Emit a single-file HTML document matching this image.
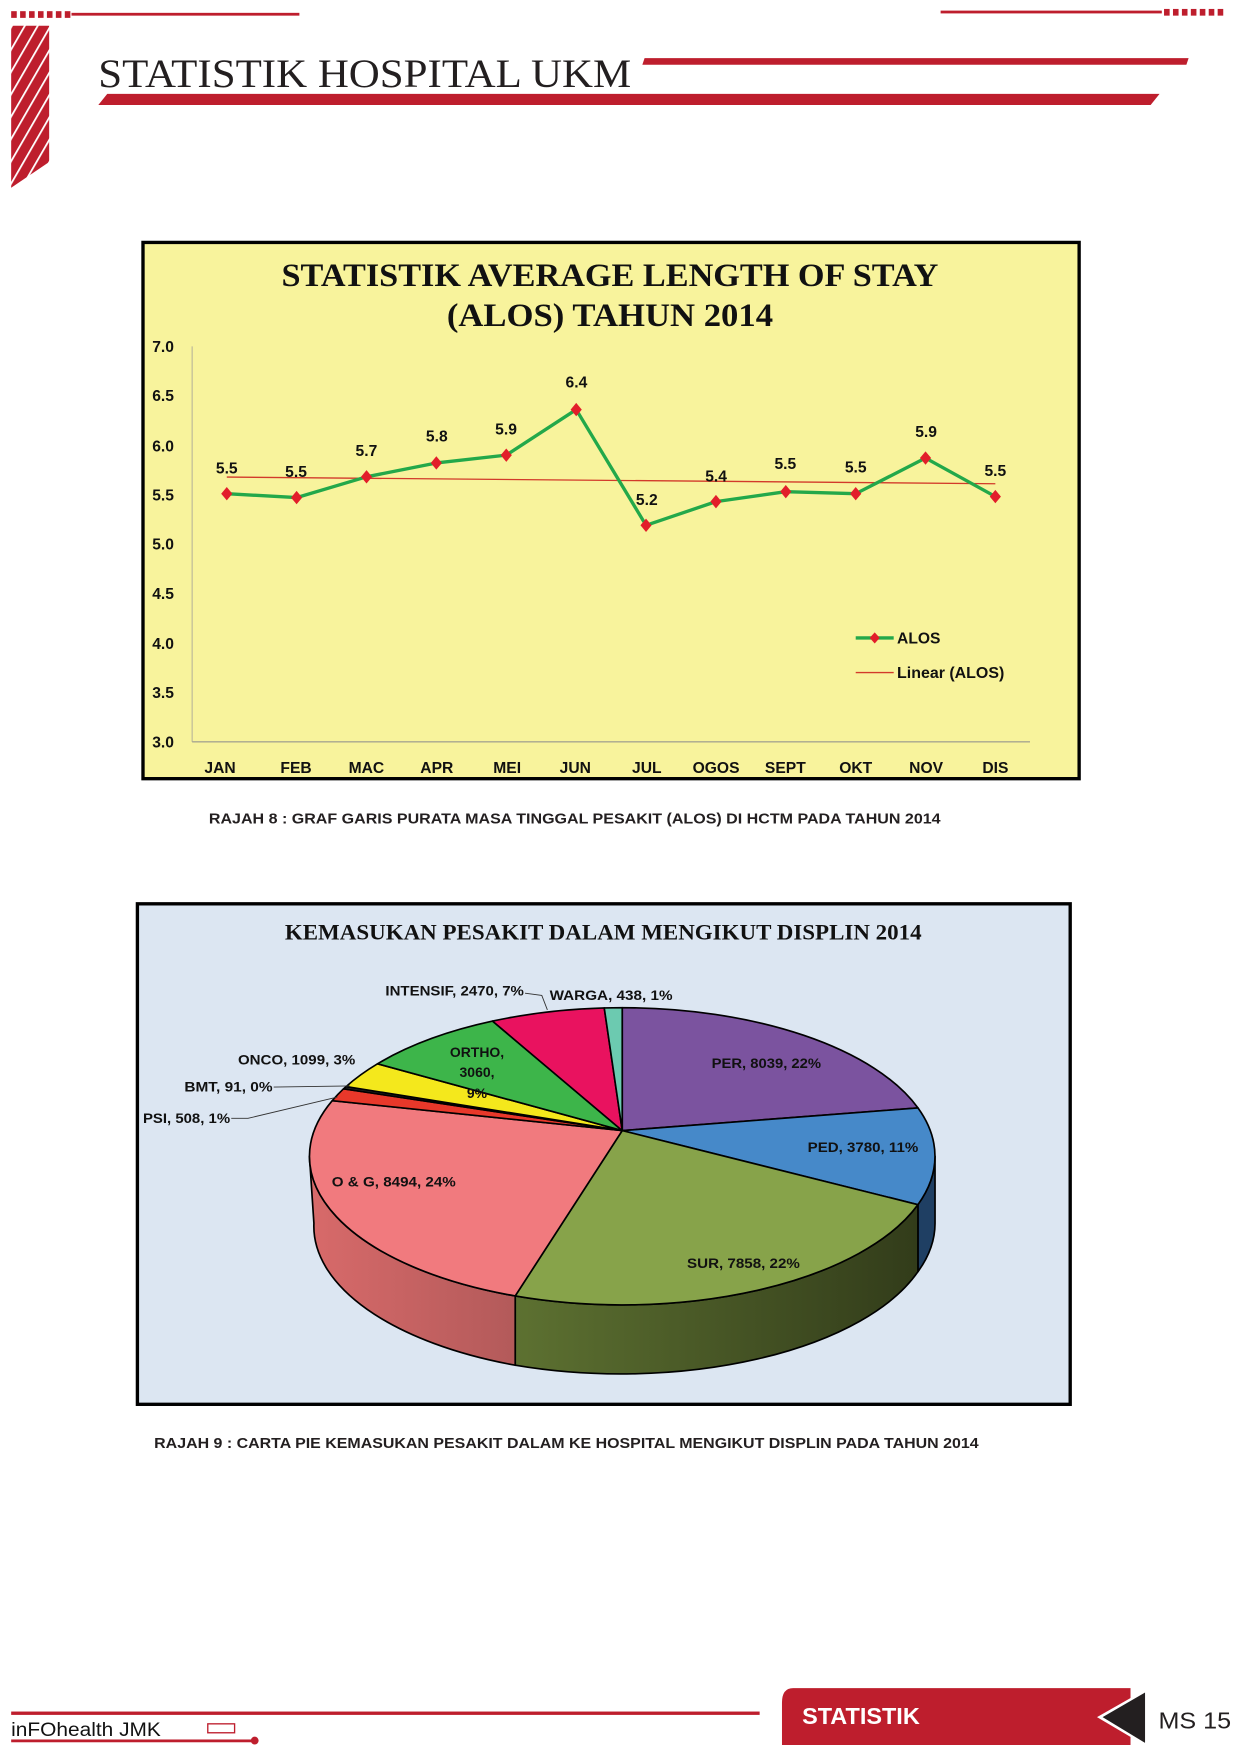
<!DOCTYPE html>
<html><head><meta charset="utf-8"><style>
html,body{margin:0;padding:0;background:#fff;width:1240px;height:1754px;overflow:hidden}
svg{display:block}
.c{font-family:"Liberation Sans",sans-serif;font-weight:bold}
</style></head><body>
<svg width="1240" height="1754" viewBox="0 0 1110 1570" preserveAspectRatio="none" xmlns="http://www.w3.org/2000/svg">
<defs>
<pattern id="st" width="10" height="10" patternUnits="userSpaceOnUse" patternTransform="rotate(30)">
<rect width="10" height="10" fill="#be1e2d"/><rect width="1.6" height="10" fill="#fff"/></pattern>
<linearGradient id="gS" x1="0" x2="1"><stop offset="0" stop-color="#5d7131"/><stop offset="1" stop-color="#323c1a"/></linearGradient>
<linearGradient id="gO" x1="0" x2="1"><stop offset="0" stop-color="#d86a6a"/><stop offset="1" stop-color="#b35a5a"/></linearGradient>
</defs>
<!-- header -->
<g fill="#be1e2d">
<rect x="10" y="10" width="5" height="6"/><rect x="18" y="10" width="5" height="6"/><rect x="26" y="10" width="5" height="6"/><rect x="34" y="10" width="5" height="6"/><rect x="42" y="10" width="5" height="6"/><rect x="50" y="10" width="5" height="6"/><rect x="58" y="10" width="5" height="6"/>
<rect x="64" y="11.5" width="204" height="2.5"/>
<rect x="842" y="9.5" width="198" height="2.5"/>
<rect x="1042" y="8" width="5" height="6"/><rect x="1050" y="8" width="5" height="6"/><rect x="1058" y="8" width="5" height="6"/><rect x="1066" y="8" width="5" height="6"/><rect x="1074" y="8" width="5" height="6"/><rect x="1082" y="8" width="5" height="6"/><rect x="1090" y="8" width="5" height="6"/>
<polygon points="577,52 1064,52 1062,58 575,58"/>
<polygon points="96,84 1038,84 1030,94 88,94"/>
</g>
<polygon points="10,23 44,23 44,145 10,168" fill="url(#st)"/>
<text x="88" y="78" font-family="Liberation Serif,serif" font-size="36" textLength="477" lengthAdjust="spacingAndGlyphs" fill="#231f20">STATISTIK HOSPITAL UKM</text>

<!-- chart 1 -->
<rect x="128" y="217" width="838" height="480" fill="#f8f39c" stroke="#000" stroke-width="3"/>
<g font-family="Liberation Serif,serif" font-weight="bold" font-size="29" text-anchor="middle" fill="#111">
<text x="546" y="256" textLength="588" lengthAdjust="spacingAndGlyphs">STATISTIK AVERAGE LENGTH OF STAY</text>
<text x="546" y="292" textLength="292" lengthAdjust="spacingAndGlyphs">(ALOS) TAHUN 2014</text>
</g>
<line x1="172" y1="310" x2="172" y2="664" stroke="#b9b69a" stroke-width="1"/>
<line x1="172" y1="664" x2="922" y2="664" stroke="#a8a690" stroke-width="1.2"/>
<g class="c" font-size="14" text-anchor="middle" fill="#111">
<text x="146" y="315">7.0</text><text x="146" y="359">6.5</text><text x="146" y="404">6.0</text><text x="146" y="448">5.5</text><text x="146" y="492">5.0</text><text x="146" y="536">4.5</text><text x="146" y="581">4.0</text><text x="146" y="625">3.5</text><text x="146" y="669">3.0</text>
<text x="197" y="692">JAN</text><text x="265" y="692">FEB</text><text x="328" y="692">MAC</text><text x="391" y="692">APR</text><text x="454" y="692">MEI</text><text x="515" y="692">JUN</text><text x="579" y="692">JUL</text><text x="641" y="692">OGOS</text><text x="703" y="692">SEPT</text><text x="766" y="692">OKT</text><text x="829" y="692">NOV</text><text x="891" y="692">DIS</text>
</g>
<line x1="203" y1="427" x2="891" y2="433" stroke="#d23a2a" stroke-width="1.2"/>
<polyline fill="none" stroke="#23a84a" stroke-width="3" stroke-linejoin="round" points="203,441.9 265.5,445.4 328.1,426.8 390.6,414.4 453.2,407.4 515.8,366.6 578.3,470.2 640.9,449 703.4,440.1 766,441.9 828.5,410 891,444.5"/>
<g fill="#e21e2a">
<path d="M203,435.9l5,6l-5,6l-5,-6z"/><path d="M265.5,439.4l5,6l-5,6l-5,-6z"/><path d="M328.1,420.8l5,6l-5,6l-5,-6z"/><path d="M390.6,408.4l5,6l-5,6l-5,-6z"/><path d="M453.2,401.4l5,6l-5,6l-5,-6z"/><path d="M515.8,360.6l5,6l-5,6l-5,-6z"/><path d="M578.3,464.2l5,6l-5,6l-5,-6z"/><path d="M640.9,443l5,6l-5,6l-5,-6z"/><path d="M703.4,434.1l5,6l-5,6l-5,-6z"/><path d="M766,435.9l5,6l-5,6l-5,-6z"/><path d="M828.5,404l5,6l-5,6l-5,-6z"/><path d="M891,438.5l5,6l-5,6l-5,-6z"/>
</g>
<g class="c" font-size="14" text-anchor="middle" fill="#111">
<text x="203" y="424">5.5</text><text x="265" y="427">5.5</text><text x="328" y="408">5.7</text><text x="391" y="395">5.8</text><text x="453" y="389">5.9</text><text x="516" y="347">6.4</text><text x="579" y="452">5.2</text><text x="641" y="431">5.4</text><text x="703" y="420">5.5</text><text x="766" y="423">5.5</text><text x="829" y="391">5.9</text><text x="891" y="426">5.5</text>
</g>
<line x1="766" y1="571" x2="800" y2="571" stroke="#23a84a" stroke-width="3"/>
<path d="M783,566l4.5,5l-4.5,5l-4.5,-5z" fill="#e21e2a"/>
<line x1="766" y1="602" x2="800" y2="602" stroke="#d23a2a" stroke-width="1.2"/>
<g class="c" font-size="14" fill="#111"><text x="803" y="576">ALOS</text><text x="803" y="607" textLength="96" lengthAdjust="spacingAndGlyphs">Linear (ALOS)</text></g>
<text class="c" x="187" y="737" font-size="13.5" textLength="655" lengthAdjust="spacingAndGlyphs" fill="#231f20">RAJAH 8 : GRAF GARIS PURATA MASA TINGGAL PESAKIT (ALOS) DI HCTM PADA TAHUN 2014</text>

<!-- chart 2 -->
<rect x="123" y="809" width="835" height="448" fill="#dce6f2" stroke="#000" stroke-width="3"/>
<text x="540" y="841" font-family="Liberation Serif,serif" font-weight="bold" font-size="20" text-anchor="middle" textLength="570" lengthAdjust="spacingAndGlyphs" fill="#111">KEMASUKAN PESAKIT DALAM MENGIKUT DISPLIN 2014</text>
<g stroke="#000" stroke-width="1.5" stroke-linejoin="round">
<path d="M837,1035 A280,133 0 0 1 821.7,1078.3 L821.7,1138.3 A280,133 0 0 0 837,1095 Z" fill="#1f3f63"/>
<path d="M821.7,1078.3 A280,133 0 0 1 461.2,1160 L461.2,1222 A280,133 0 0 0 821.7,1138.3 Z" fill="url(#gS)"/>
<path d="M461.2,1160 A280,133 0 0 1 277,1035 L281,1095 A280,133 0 0 0 461.2,1222 Z" fill="url(#gO)"/>
<path d="M557,1012 L557,902 A280,133 0 0 1 821.7,991.7 Z" fill="#7b539f"/>
<path d="M557,1012 L821.7,991.7 A280,133 0 0 1 821.7,1078.3 Z" fill="#4689c9"/>
<path d="M557,1012 L821.7,1078.3 A280,133 0 0 1 461.2,1160 Z" fill="#87a34a"/>
<path d="M557,1012 L461.2,1160 A280,133 0 0 1 297.4,985.2 Z" fill="#f17a7e"/>
<path d="M557,1012 L297.4,985.2 A280,133 0 0 1 307.5,974.6 Z" fill="#e8382a"/>
<path d="M557,1012 L307.5,974.6 A280,133 0 0 1 309.8,972.6 Z" fill="#222"/>
<path d="M557,1012 L309.8,972.6 A280,133 0 0 1 337.9,952.2 Z" fill="#f4e81c"/>
<path d="M557,1012 L337.9,952.2 A280,133 0 0 1 440.9,914 Z" fill="#3db54a"/>
<path d="M557,1012 L440.9,914 A280,133 0 0 1 540.9,902.2 Z" fill="#e9125f"/>
<path d="M557,1012 L540.9,902.2 A280,133 0 0 1 557,902 Z" fill="#6ccab0"/>
</g>
<g stroke="#333" stroke-width="0.8" fill="none">
<polyline points="470,889 485,891 490,904"/>
<polyline points="245,973 313,972"/>
<polyline points="207,1001 222,1001 302,982"/>
</g>
<g class="c" font-size="12.5" fill="#111">
<text x="345" y="891" textLength="124" lengthAdjust="spacingAndGlyphs">INTENSIF, 2470, 7%</text>
<text x="492" y="895" textLength="110" lengthAdjust="spacingAndGlyphs">WARGA, 438, 1%</text>
<text x="637" y="956" textLength="98" lengthAdjust="spacingAndGlyphs">PER, 8039, 22%</text>
<text x="723" y="1031" textLength="99" lengthAdjust="spacingAndGlyphs">PED, 3780, 11%</text>
<text x="615" y="1135" textLength="101" lengthAdjust="spacingAndGlyphs">SUR, 7858, 22%</text>
<text x="297" y="1062" textLength="111" lengthAdjust="spacingAndGlyphs">O &amp; G, 8494, 24%</text>
<text x="427" y="946" text-anchor="middle">ORTHO,</text>
<text x="427" y="964" text-anchor="middle">3060,</text>
<text x="427" y="983" text-anchor="middle">9%</text>
<text x="213" y="953" textLength="105" lengthAdjust="spacingAndGlyphs">ONCO, 1099, 3%</text>
<text x="165" y="977" textLength="79" lengthAdjust="spacingAndGlyphs">BMT, 91, 0%</text>
<text x="128" y="1005" textLength="78" lengthAdjust="spacingAndGlyphs">PSI, 508, 1%</text>
</g>
<text class="c" x="138" y="1296" font-size="13.5" textLength="738" lengthAdjust="spacingAndGlyphs" fill="#231f20">RAJAH 9 : CARTA PIE KEMASUKAN PESAKIT DALAM KE HOSPITAL MENGIKUT DISPLIN PADA TAHUN 2014</text>

<!-- footer -->
<rect x="10" y="1532" width="670" height="3" fill="#be1e2d"/>
<text x="10" y="1554" font-family="Liberation Sans,sans-serif" font-size="17" textLength="134" lengthAdjust="spacingAndGlyphs" fill="#111">inFOhealth JMK</text>
<rect x="186" y="1543" width="24" height="8" fill="none" stroke="#be1e2d" stroke-width="1.2"/>
<rect x="10" y="1557" width="218" height="2.5" fill="#be1e2d"/>
<circle cx="228" cy="1558" r="3.5" fill="#be1e2d"/>
<path d="M710,1511 L1012,1511 L1012,1562 L700,1562 L700,1524 Q700,1511 710,1511 Z" fill="#be1e2d"/>
<text x="718" y="1543" font-family="Liberation Sans,sans-serif" font-weight="bold" font-size="21" fill="#fff">STATISTIK</text>
<polygon points="982,1537 1026,1512 1026,1563" fill="#fff"/>
<polygon points="987,1537 1025,1515 1025,1560" fill="#231f20"/>
<text x="1037" y="1547" font-family="Liberation Sans,sans-serif" font-size="21" textLength="65" lengthAdjust="spacingAndGlyphs" fill="#231f20">MS 15</text>
</svg>
</body></html>
